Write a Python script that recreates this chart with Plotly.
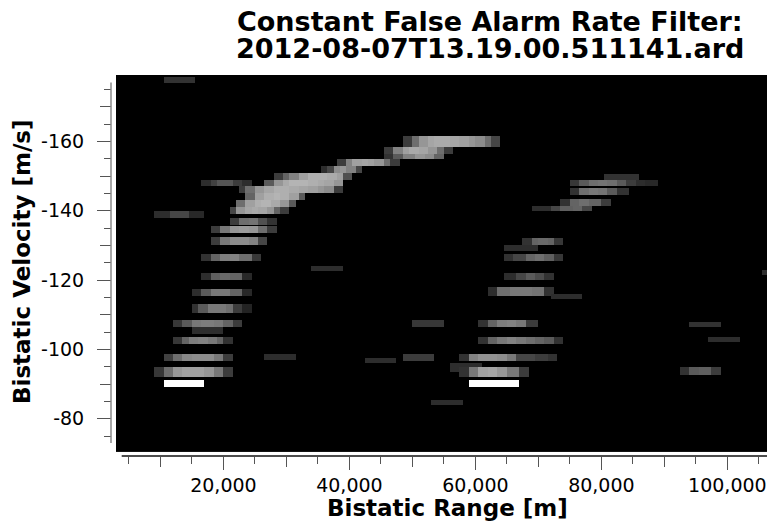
import numpy as np
import plotly.graph_objects as go

# ---------------- axis ticks ----------------
range_ticks = [20000, 40000, 60000, 80000, 100000]
range_tick_text = ["20,000", "40,000", "60,000", "80,000", "100,000"]
range_mid_ticks = [10000, 30000, 50000, 70000, 90000]
velocity_ticks = [-160, -140, -120, -100, -80]
velocity_tick_text = ["-160", "-140", "-120", "-100", "-80"]
velocity_mid_ticks = [-170, -150, -130, -110, -90]

# ---------------- CFAR detections ----------------
# each strip: velocity extent [m/s], range extent [m], grey levels (0-255)
# spread evenly across the strip from near to far range
strip_v_top = [
    -178.5, -140, -149, -124, -98.5, -108.5, -97.5, -98.5, -85.5,
    -108, -103.5, -95, -123,
    # left arc
    -95, -98.5, -103.5, -108.5, -106.5, -113, -117.5, -122, -127.5, -132.5,
    -135.5, -138, -141, -143, -145, -147, -149, -151, -153, -155, -156.5,
    -158.5, -161.5, -91,
    # right arc
    -150.5, -149, -146.5, -143.5, -141.5, -132, -130, -127.5, -122, -118,
    -116, -108.5, -103.5, -98.5, -96, -95, -91,
]
strip_v_bottom = [
    -177, -138, -147, -122.5, -97, -106.5, -96, -96.5, -84,
    -106.5, -102, -92.5, -121.5,
    -92, -96.5, -101.5, -106.5, -104.5, -110.5, -115.5, -120, -125.5, -130,
    -133.5, -136, -139, -141, -143, -145, -147, -149, -151, -153, -155,
    -156.5, -158.5, -89,
    -149, -147, -144.5, -141.5, -140, -130, -128.5, -125.5, -120, -115.5,
    -114.5, -106.5, -101.5, -96.5, -93.5, -92, -89,
]
strip_r_start = [
    10571, 8984, 16445, 34016, 26603, 50095, 42635, 48508, 52952,
    93905, 96921, 92476, 105651,
    8984, 10571, 12048, 12048, 14857, 14857, 14857, 16445, 16556, 17873,
    17873, 21048, 21048, 22111, 23698, 22317, 26603, 27921, 35333, 38238, 45651,
    45651, 48556, 10460,
    80730, 75016, 75016, 73429, 68984, 67714, 64698, 64698, 64698, 61841,
    72000, 60254, 60254, 57397, 55810, 57397, 58826,
]
strip_r_end = [
    15651, 17080, 24333, 38937, 31683, 55175, 47667, 53587, 57984,
    98937, 102000, 98937, 106500,
    21476, 21476, 21476, 22905, 19889, 24333, 24333, 24333, 25810, 27079,
    28667, 28667, 30302, 31635, 33222, 38985, 38985, 40619, 41953, 47762, 54857,
    56493, 63905, 17127,
    85762, 88778, 84270, 81365, 78508, 73905, 69778, 73905, 72746, 72746,
    77032, 69778, 73905, 72794, 61000, 68349, 66873,
]
strip_levels = [
    [50, 50, 50], [45, 45, 70, 70, 40, 40], [45, 65, 85, 85, 60, 45],
    [45, 45, 45], [45, 45, 45], [55, 55, 55], [45, 45, 45], [60, 60, 60],
    [45, 45, 45],
    [50, 50, 50], [45, 45, 45], [50, 90, 95, 60], [45],
    # left arc
    [55, 110, 150, 160, 160, 150, 120, 60],
    [65, 110, 135, 140, 140, 120, 60],
    [55, 100, 125, 130, 120, 100, 50],
    [55, 90, 120, 125, 120, 100, 60],
    [45],
    [50, 90, 120, 120, 110, 60, 35],
    [45, 90, 120, 120, 100, 40],
    [45, 95, 105, 100, 40],
    [50, 100, 125, 130, 110, 55],
    [60, 120, 140, 140, 130, 70],
    [60, 120, 150, 155, 150, 110, 60],
    [60, 110, 115, 80, 50],
    [70, 150, 165, 170, 165, 150, 100, 60],
    [110, 160, 175, 180, 170, 150, 90],
    [100, 160, 175, 180, 175, 160, 90],
    [60, 110, 150, 165, 175, 175, 170, 165, 160, 150, 140, 60],
    [90, 150, 170, 180, 180, 175, 170, 165, 150],
    [60, 100, 130, 160, 175, 175, 170, 160, 80],
    [45, 70, 140, 150, 130, 70],
    [60, 130, 160, 165, 160, 150, 110, 60],
    [50, 90, 130, 150, 140, 100],
    [60, 130, 160, 170, 165, 150, 110, 60],
    [60, 110, 150, 165, 170, 170, 165, 160, 150, 140, 110, 70],
    [255, 255, 255, 255, 255],
    # right arc
    [50, 50, 50],
    [55, 90, 110, 115, 110, 90, 60, 45, 40],
    [50, 110, 120, 115, 90, 50],
    [50, 100, 110, 100, 60],
    [45, 45, 70, 95, 100, 70],
    [50, 100, 105, 100, 55],
    [45, 45, 45],
    [50, 70, 100, 110, 95, 55],
    [45, 70, 90, 75, 50],
    [45, 110, 120, 120, 115, 50],
    [45, 45, 45],
    [50, 100, 125, 130, 120, 60],
    [50, 100, 120, 130, 120, 110, 100, 90, 50],
    [50, 130, 145, 145, 140, 120, 70, 70, 60, 50],
    [45, 45, 45],
    [50, 120, 160, 165, 150, 120, 60],
    [255, 255, 255, 255, 255],
]

# ---------------- range/velocity grid ----------------
range_bin = 500.0
velocity_bin = 0.5
r_edges = np.arange(2500.0, 107000.0 + range_bin, range_bin)
v_edges = np.arange(-180.0, -70.0 + velocity_bin, velocity_bin)
r_centers = (r_edges[:-1] + r_edges[1:]) / 2
v_centers = (v_edges[:-1] + v_edges[1:]) / 2

z = np.zeros((len(v_centers), len(r_centers)))
for vt, vb, r0, r1, lv in zip(strip_v_top, strip_v_bottom, strip_r_start,
                              strip_r_end, strip_levels):
    rows = (v_centers > vt) & (v_centers < vb)
    cols = np.where((r_centers > r0) & (r_centers < r1))[0]
    for c in cols:
        k = min(int((r_centers[c] - r0) / (r1 - r0) * len(lv)), len(lv) - 1)
        z[rows, c] = lv[k]

# ---------------- layout geometry (pixels) ----------------
W, H = 767, 529
L, R, T, B = 111, 0, 75, 73
PW, PH = W - L - R, H - T - B


def px_x(px):
    return (px - L) / PW


def px_y(py):
    return (H - B - py) / PH


x_domain = [px_x(116), 1.0]
y_domain = [px_y(451.7), 1.0]
x_range = [2952, 106288]
y_range = [-70.48, -179.19]

FONT = "DejaVu Sans"
TICK_COLOR = "#555555"

fig = go.Figure()
fig.add_trace(go.Heatmap(
    x=r_centers, y=v_centers, z=z,
    colorscale=[[0, "#000000"], [1, "#ffffff"]],
    zmin=0, zmax=255, showscale=False, hoverinfo="skip",
))
# carrier for the secondary (mid-level) tick axes
fig.add_trace(go.Scatter(x=[], y=[], xaxis="x2", yaxis="y2",
                         showlegend=False, hoverinfo="skip"))

common = dict(showgrid=False, zeroline=False, showline=False,
              anchor="free", position=0, ticks="outside",
              tickcolor=TICK_COLOR, tickwidth=1.3, fixedrange=True)

fig.update_layout(
    width=W, height=H,
    margin=dict(l=L, r=R, t=T, b=B, pad=0),
    paper_bgcolor="white",
    plot_bgcolor="black",
    showlegend=False,
    xaxis=dict(
        domain=x_domain, range=x_range, tickmode="array",
        tickvals=range_ticks, ticktext=range_tick_text, ticklen=13,
        tickfont=dict(family=FONT, size=19, color="black"),
        ticklabelstandoff=-1,
        minor=dict(dtick=5000, tick0=0, ticks="outside", ticklen=7,
                   tickcolor=TICK_COLOR, tickwidth=1.3),
        **common,
    ),
    yaxis=dict(
        domain=y_domain, range=y_range, tickmode="array",
        tickvals=velocity_ticks, ticktext=velocity_tick_text, ticklen=14,
        tickfont=dict(family=FONT, size=19, color="black"),
        ticklabelstandoff=9,
        minor=dict(dtick=5, tick0=0, ticks="outside", ticklen=7,
                   tickcolor=TICK_COLOR, tickwidth=1.3),
        **common,
    ),
    xaxis2=dict(domain=x_domain, range=x_range, overlaying="x",
                tickmode="array", tickvals=range_mid_ticks, ticklen=10,
                showticklabels=False, **common),
    yaxis2=dict(domain=y_domain, range=y_range, overlaying="y",
                tickmode="array", tickvals=velocity_mid_ticks, ticklen=11,
                showticklabels=False, **common),
)

# axis lines
fig.add_shape(type="line", xref="paper", yref="paper",
              x0=0, x1=0, y0=px_y(443), y1=px_y(82.6),
              line=dict(color="#8a8a8a", width=1.5))
fig.add_shape(type="line", xref="paper", yref="paper",
              x0=px_x(121.7), x1=1, y0=0, y1=0,
              line=dict(color="#111111", width=1.5))

# titles (two stacked lines with tight spacing)
bold = dict(family=FONT, color="black", weight="bold")
fig.add_annotation(text="Constant False Alarm Rate Filter:",
                   x=px_x(490), y=px_y(21), xref="paper", yref="paper",
                   xanchor="center", yanchor="middle", showarrow=False,
                   height=26, font=dict(size=27, **bold))
fig.add_annotation(text="2012-08-07T13.19.00.511141.ard",
                   x=px_x(490), y=px_y(48), xref="paper", yref="paper",
                   xanchor="center", yanchor="middle", showarrow=False,
                   height=26, font=dict(size=27, **bold))
fig.add_annotation(text="Bistatic Range [m]",
                   x=px_x(447), y=px_y(508), xref="paper", yref="paper",
                   xanchor="center", yanchor="middle", showarrow=False,
                   font=dict(size=23, **bold))
fig.add_annotation(text="Bistatic Velocity [m/s]", textangle=-90,
                   x=px_x(22), y=px_y(262), xref="paper", yref="paper",
                   xanchor="center", yanchor="middle", showarrow=False,
                   font=dict(size=23, **bold))

fig.write_html("out.html", config={"displayModeBar": False})
